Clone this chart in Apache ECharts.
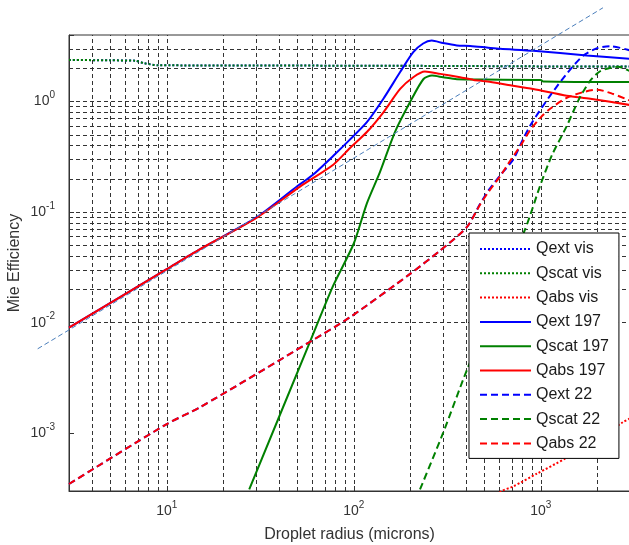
<!DOCTYPE html>
<html>
<head>
<meta charset="utf-8">
<script src="https://cdn.jsdelivr.net/npm/echarts@6/dist/echarts.min.js"></script>
<style>
    body { margin: 0; background: #fff; }
    #chart { width: 629px; height: 545px; }
</style>
</head>
<body>
<div id="chart"></div>
<script>
// 数据: [半径(microns), 效率]
const qextVis = [[3, 2.38], [5, 2.36], [6.8, 2.34], [7.6, 2.22], [9, 2.13], [30, 2.12], [300, 2.10], [1000, 2.08], [3000, 2.07]];
const qscatVis = [[3, 2.38], [5, 2.36], [6.8, 2.34], [7.6, 2.22], [9, 2.13], [30, 2.12], [300, 2.10], [1000, 2.08], [3000, 2.07]];
const qabsVis = [[560, 2.6e-4], [618, 3.0e-4], [713, 3.3e-4], [953, 4.3e-4], [1349, 5.9e-4], [2754, 1.26e-3], [3000, 1.36e-3]];

const qext197 = [[3, 0.0090], [10, 0.0305], [15, 0.046], [30, 0.089], [50, 0.172], [60, 0.215], [78, 0.325], [95, 0.45],
    [117.5, 0.65], [144, 1.06], [177, 1.85], [208, 2.80], [235, 3.35], [261, 3.56], [300, 3.38], [356, 3.22], [420, 3.18],
    [514, 3.08], [607, 3.0], [912, 2.88], [1760, 2.61], [3000, 2.43]];
const qscat197 = [[27.6, 3.1e-4], [58.3, 0.0067], [77.5, 0.0215], [100, 0.052], [117.5, 0.12], [138, 0.23], [166, 0.53],
    [200, 0.99], [236, 1.60], [262, 1.72], [300, 1.66], [356, 1.59], [500, 1.58], [1000, 1.57], [1030, 1.52], [3000, 1.50]];
const qabs197 = [[3, 0.0090], [10, 0.0305], [15, 0.046], [30, 0.088], [51.6, 0.170], [78, 0.27], [95.5, 0.38],
    [117.5, 0.53], [144, 0.80], [177, 1.30], [208, 1.66], [240, 1.87], [290, 1.78], [370, 1.66], [437, 1.57], [520, 1.52],
    [658, 1.42], [910, 1.30], [1377, 1.13], [1840, 1.06], [3000, 0.93]];

const qext22 = [[3, 3.47e-4], [10, 0.00121], [15, 0.00171], [58.3, 0.0067], [95.5, 0.0112], [200, 0.0276], [290, 0.045],
    [402, 0.073], [474, 0.119], [525, 0.157], [605, 0.214], [713, 0.30], [800, 0.45], [900, 0.65], [1122, 1.13],
    [1400, 1.85], [1690, 2.61], [2000, 3.04], [2350, 3.17], [3000, 2.90]];
const qscat22 = [[226, 3.1e-4], [300, 1.0e-3], [402, 0.0037], [825, 0.070], [1000, 0.18], [1150, 0.33], [1377, 0.60],
    [1600, 1.05], [1840, 1.55], [2076, 1.88], [2443, 2.05], [2600, 2.06], [3000, 1.88]];
const qabs22 = [[3, 3.47e-4], [10, 0.00121], [15, 0.00171], [58.3, 0.0067], [95.5, 0.0112], [200, 0.0276], [290, 0.045],
    [402, 0.073], [474, 0.117], [525, 0.152], [605, 0.21], [685, 0.29], [780, 0.40], [877, 0.55], [1000, 0.72],
    [1122, 0.86], [1377, 1.08], [1690, 1.22], [2000, 1.28], [2443, 1.17], [3000, 1.02]];

// 细虚线 (斜率约为1的参考线), 超出坐标轴范围
const refLine = [[2.04, 0.0058], [2150, 7.05]];

const legendNames = ['Qext vis', 'Qscat vis', 'Qabs vis', 'Qext 197', 'Qscat 197', 'Qabs 197', 'Qext 22', 'Qscat 22', 'Qabs 22'];

const font = 'Liberation Sans, Arial, sans-serif';
const DOT = [2, 2];
const DASH = [7, 4];

// 坐标区 (像素)
const plotLeft = 69, plotTop = 35, plotW = 561, plotH = 456;
const xMin = 3, xMax = 3000, yMin = 3e-4, yMax = 4;
// 参考线用的隐藏x轴, 从2开始, 每十倍程像素相同
const decadePx = plotW / Math.log10(xMax / xMin);
const refXMin = 2;
const refShift = decadePx * Math.log10(xMin / refXMin);

// 网格线位置 (对数坐标的主/次刻度)
let xGrid = [];
let yGrid = [];
[1, 10, 100, 1000].forEach(function (d) {
    for (let m = 1; m <= 9; m++) {
        let v = m * d;
        if (v > xMin && v < xMax) xGrid.push({ xAxis: v });
    }
});
[1e-4, 1e-3, 1e-2, 1e-1, 1].forEach(function (d) {
    for (let m = 1; m <= 9; m++) {
        let v = m * d;
        if (v > yMin && v < yMax) yGrid.push({ yAxis: v });
    }
});

function curve(name, data, color, dash) {
    return {
        name: name,
        type: 'line',
        data: data,
        symbol: 'none',
        showSymbol: false,
        smooth: 0.25,
        silent: true,
        z: 3,
        lineStyle: { color: color, width: 2, type: dash },
        itemStyle: { color: color }
    };
}

// 10^n 标签
function powLabel(v) {
    let e = Math.log10(v);
    let n = Math.round(e);
    if (Math.abs(e - n) > 1e-6) return '';
    return '10{sup|' + n + '}';
}

const supRich = {
    sup: { fontSize: 10, lineHeight: 12, verticalAlign: 'top', color: '#333', fontFamily: font }
};

const chart = echarts.init(document.getElementById('chart'), null, { renderer: 'canvas' });

chart.setOption({
    animation: false,
    backgroundColor: '#fff',
    grid: [{
        left: plotLeft,
        top: plotTop,
        width: plotW,
        height: plotH,
        show: true,
        borderColor: '#333',
        borderWidth: 1,
        containLabel: false,
        outerBoundsMode: 'none'
    }, {
        left: plotLeft - refShift,
        top: plotTop,
        width: plotW + refShift,
        height: plotH,
        show: false,
        containLabel: false,
        outerBoundsMode: 'none'
    }],
    legend: {
        data: legendNames,
        orient: 'vertical',
        left: 469,
        top: 233,
        padding: [8, 10, 7, 10],
        itemWidth: 51,
        itemHeight: 14,
        itemGap: 8.3,
        selectedMode: false,
        backgroundColor: '#fff',
        borderColor: '#000',
        borderWidth: 1,
        itemStyle: { opacity: 0 },
        textStyle: { fontSize: 16, color: '#1a1a1a', fontFamily: font }
    },
    xAxis: [{
        type: 'log',
        logBase: 10,
        gridIndex: 0,
        min: xMin,
        max: xMax,
        name: 'Droplet radius (microns)',
        nameLocation: 'middle',
        nameGap: 36,
        nameMoveOverlap: false,
        nameTextStyle: { fontSize: 16, color: '#333', fontFamily: font },
        axisLine: { show: true, lineStyle: { color: '#333', width: 1 } },
        axisTick: { show: true, inside: true, length: 5, lineStyle: { color: '#333' } },
        splitLine: { show: false },
        minorTick: { show: false },
        axisLabel: {
            formatter: powLabel,
            fontSize: 14,
            lineHeight: 22,
            margin: 9,
            color: '#333',
            fontFamily: font,
            rich: supRich
        }
    }, {
        type: 'log',
        logBase: 10,
        gridIndex: 1,
        min: refXMin,
        max: xMax,
        show: false
    }],
    yAxis: [{
        type: 'log',
        logBase: 10,
        gridIndex: 0,
        min: yMin,
        max: yMax,
        name: 'Mie Efficiency',
        nameLocation: 'middle',
        nameGap: 46,
        nameMoveOverlap: false,
        nameTextStyle: { fontSize: 16, color: '#333', fontFamily: font },
        axisLine: { show: true, lineStyle: { color: '#333', width: 1 } },
        axisTick: { show: true, inside: true, length: 5, lineStyle: { color: '#333' } },
        splitLine: { show: false },
        minorTick: { show: false },
        axisLabel: {
            formatter: powLabel,
            fontSize: 14,
            lineHeight: 22,
            margin: 14,
            color: '#333',
            fontFamily: font,
            rich: supRich
        }
    }, {
        type: 'log',
        logBase: 10,
        gridIndex: 1,
        min: yMin,
        max: yMax,
        show: false
    }],
    series: [
        {
            name: 'grid',
            type: 'line',
            data: [],
            silent: true,
            z: 1,
            markLine: {
                silent: true,
                z: 1,
                symbol: ['none', 'none'],
                label: { show: false },
                lineStyle: { color: '#333', width: 1, type: [4, 3] },
                emphasis: { disabled: true },
                data: xGrid.concat(yGrid)
            }
        },
        curve('Qext vis', qextVis, '#0000ff', DOT),
        curve('Qscat vis', qscatVis, '#008000', DOT),
        curve('Qabs vis', qabsVis, '#ff0000', DOT),
        curve('Qext 197', qext197, '#0000ff', 'solid'),
        curve('Qscat 197', qscat197, '#008000', 'solid'),
        curve('Qabs 197', qabs197, '#ff0000', 'solid'),
        curve('Qext 22', qext22, '#0000ff', DASH),
        curve('Qscat 22', qscat22, '#008000', DASH),
        curve('Qabs 22', qabs22, '#ff0000', DASH),
        {
            name: 'ref',
            type: 'line',
            xAxisIndex: 1,
            yAxisIndex: 1,
            data: refLine,
            symbol: 'none',
            silent: true,
            clip: false,
            z: 4,
            lineStyle: { color: '#4a7ebb', width: 1, type: [5, 3] }
        }
    ]
});
</script>
</body>
</html>
